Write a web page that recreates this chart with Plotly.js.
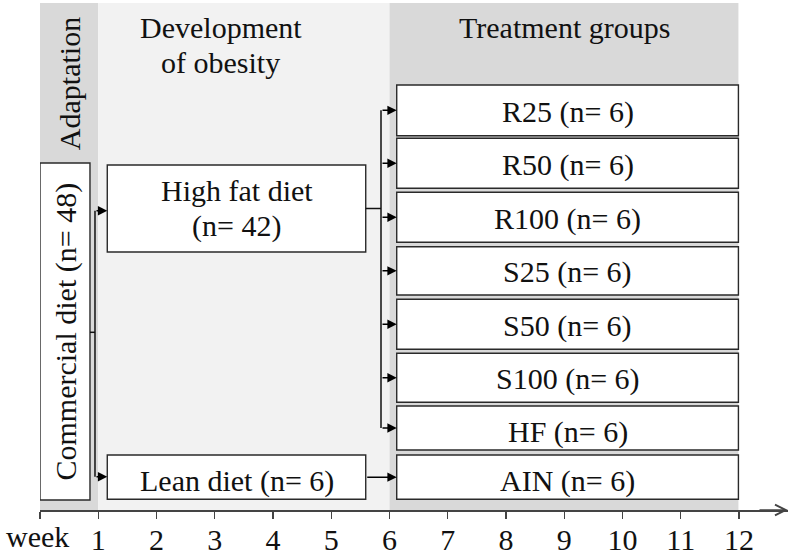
<!DOCTYPE html>
<html><head><meta charset="utf-8">
<script src="https://cdn.plot.ly/plotly-3.0.1.min.js"></script>
<style>html,body{margin:0;padding:0;background:#fff}#chart{width:791px;height:555px}</style>
</head><body><div id="chart"></div>
<script>
// ---------------- data ----------------
const weeks = [0, 1, 2, 3, 4, 5, 6, 7, 8, 9, 10, 11, 12];
const weekLabels = ['', '1', '2', '3', '4', '5', '6', '7', '8', '9', '10', '11', '12'];
const axisLabel = 'week';
const phaseNames = ['Adaptation', 'Development<br>of obesity', 'Treatment groups'];
const phaseStart = [0, 1, 6];
const phaseEnd = [1, 6, 12];
const dietNames = ['Commercial diet', 'High fat diet', 'Lean diet'];
const dietN = [48, 42, 6];
const groupNames = ['R25', 'R50', 'R100', 'S25', 'S50', 'S100', 'HF', 'AIN'];
const groupN = [6, 6, 6, 6, 6, 6, 6, 6];
const groupFrom = ['High fat diet', 'High fat diet', 'High fat diet', 'High fat diet',
                   'High fat diet', 'High fat diet', 'High fat diet', 'Lean diet'];

// ---------------- layout / style ----------------
const FONT = 'Liberation Serif';
const TXT = '#111111';
const FS = 30;
const bandColors = ['#d9d9d9', '#f2f2f2', '#d9d9d9'];
const bandTop = 3, bandBottom = 510;
const boxLine = {color: '#2a2a2a', width: 1.4};
const connLine = {color: '#111', width: 1.5};
// box geometry: x in weeks, y in rows (top-down)
const dietBox = [
  {x0: 0, x1: 0.858, y0: 163, y1: 500},
  {x0: 1.155, x1: 5.592, y0: 165, y1: 252},
  {x0: 1.155, x1: 5.592, y0: 455, y1: 499.3}
];
const groupX0 = 6.124, groupX1 = 11.99;
const groupTop = [85, 138.3, 192.3, 246.7, 299.3, 353.3, 406, 455];
const groupBottom = [135.7, 188.3, 242.3, 295, 349.3, 402.3, 450, 499.3];
const commX = 0.944;      // commercial split line
const hfX = 5.854;        // high-fat split line

const shapes = [];
const annotations = [];
const tfont = {family: FONT, size: FS, color: TXT};

// phase bands
phaseNames.forEach((p, i) => {
  shapes.push({type: 'rect', layer: 'below', xref: 'x', yref: 'y',
    x0: phaseStart[i], x1: phaseEnd[i] - (i === 2 ? 0.01 : 0), y0: bandTop, y1: bandBottom,
    fillcolor: bandColors[i], line: {width: 0}});
});
// phase titles
annotations.push({xref: 'x', yref: 'y', x: 0.5, y: 84, text: phaseNames[0], textangle: -90,
  showarrow: false, font: tfont});
phaseNames[1].split('<br>').forEach((t, k) => {
  annotations.push({xref: 'x', yref: 'y', x: 3.107, y: 27 + 35 * k, text: t,
    showarrow: false, font: tfont});
});
annotations.push({xref: 'x', yref: 'y', x: (phaseStart[2] + phaseEnd[2]) / 2, y: 27, text: phaseNames[2],
  showarrow: false, font: tfont});

// diet boxes
dietBox.forEach(b => shapes.push({type: 'rect', xref: 'x', yref: 'y', x0: b.x0, x1: b.x1, y0: b.y0, y1: b.y1,
  fillcolor: '#ffffff', line: boxLine}));
// commercial text (rotated)
annotations.push({xref: 'x', yref: 'y', x: 0.43, y: (dietBox[0].y0 + dietBox[0].y1) / 2,
  text: dietNames[0] + ' (n= ' + dietN[0] + ')', textangle: -90,
  showarrow: false, font: tfont});
// high fat text (two lines)
[dietNames[1], '(n= ' + dietN[1] + ')'].forEach((t, k) => {
  annotations.push({xref: 'x', yref: 'y', x: (dietBox[1].x0 + dietBox[1].x1) / 2, y: 190 + 36 * k, text: t,
    showarrow: false, font: tfont});
});
// lean text
annotations.push({xref: 'x', yref: 'y', x: (dietBox[2].x0 + dietBox[2].x1) / 2, y: 480.5,
  text: dietNames[2] + ' (n= ' + dietN[2] + ')', showarrow: false, font: tfont});

// treatment group boxes
groupNames.forEach((g, i) => {
  shapes.push({type: 'rect', xref: 'x', yref: 'y', x0: groupX0, x1: groupX1, y0: groupTop[i], y1: groupBottom[i],
    fillcolor: '#ffffff', line: boxLine});
  const h = groupBottom[i] - groupTop[i];
  annotations.push({xref: 'x', yref: 'y', x: (groupX0 + groupX1) / 2,
    y: (groupTop[i] + groupBottom[i]) / 2 + (h < 48 ? 4 : 1.5),
    text: g + ' (n= ' + groupN[i] + ')', showarrow: false, font: tfont});
});

// arrow helper
function arrow(xTail, xHead, y) {
  annotations.push({xref: 'x', yref: 'y', axref: 'x', ayref: 'y', x: xHead, y: y, ax: xTail, ay: y,
    text: '', showarrow: true, arrowhead: 2, arrowsize: 1.25, arrowwidth: 1.5, arrowcolor: '#000', standoff: 0});
}
function line(x0, y0, x1, y1) {
  shapes.push({type: 'line', xref: 'x', yref: 'y', x0: x0, y0: y0, x1: x1, y1: y1, line: connLine});
}

// commercial -> high fat / lean
const commMid = (dietBox[0].y0 + dietBox[0].y1) / 2 + 0.8;
const hfArrowY = 210.7, leanArrowY = 476.8;
line(dietBox[0].x1, commMid, commX, commMid);
line(commX, hfArrowY, commX, leanArrowY);
arrow(commX, dietBox[1].x0, hfArrowY);
arrow(commX, dietBox[2].x0, leanArrowY);

// high fat -> treatment groups
const hfMid = (dietBox[1].y0 + dietBox[1].y1) / 2;
line(dietBox[1].x1, hfMid, hfX, hfMid);
const fedByHF = groupNames.map((g, i) => i).filter(i => groupFrom[i] === dietNames[1]);
const centers = groupNames.map((g, i) => (groupTop[i] + groupBottom[i]) / 2);
line(hfX, centers[fedByHF[0]], hfX, centers[fedByHF[fedByHF.length - 1]]);
fedByHF.forEach(i => arrow(hfX, groupX0, centers[i]));
// lean -> AIN
groupNames.forEach((g, i) => {
  if (groupFrom[i] === dietNames[2]) arrow(dietBox[2].x1, groupX0, centers[i]);
});

// axis arrow head
annotations.push({xref: 'paper', yref: 'paper', x: 1, y: 0, ax: -30, ay: 0, text: '',
  showarrow: true, arrowhead: 5, arrowsize: 1.5, arrowwidth: 1.4, arrowcolor: '#444', standoff: 0});
// "week" label
annotations.push({xref: 'paper', yref: 'paper', x: (4 - 40) / 748, y: (510 - 536) / 510,
  xanchor: 'left', yanchor: 'middle',
  text: axisLabel, showarrow: false, font: tfont});

const trace = {x: weeks, y: weeks.map(() => bandBottom), type: 'scatter', mode: 'markers',
  marker: {opacity: 0}, hoverinfo: 'skip', showlegend: false};

const layout = {
  width: 791, height: 555,
  margin: {l: 40, r: 3, t: 0, b: 45},
  paper_bgcolor: '#ffffff', plot_bgcolor: '#ffffff',
  showlegend: false,
  xaxis: {range: [0, 748 / 58.25], tickvals: weeks, ticktext: weekLabels, ticks: 'outside',
    ticklen: 7, tickwidth: 1.3, tickcolor: '#444', showline: true, linecolor: '#444', linewidth: 1.5,
    showgrid: false, zeroline: false, fixedrange: true, ticklabelstandoff: -5,
    tickfont: tfont},
  yaxis: {range: [bandBottom, 0], visible: false, fixedrange: true},
  shapes: shapes,
  annotations: annotations
};
Plotly.newPlot('chart', [trace], layout, {displayModeBar: false, staticPlot: true});
</script>
</body></html>
